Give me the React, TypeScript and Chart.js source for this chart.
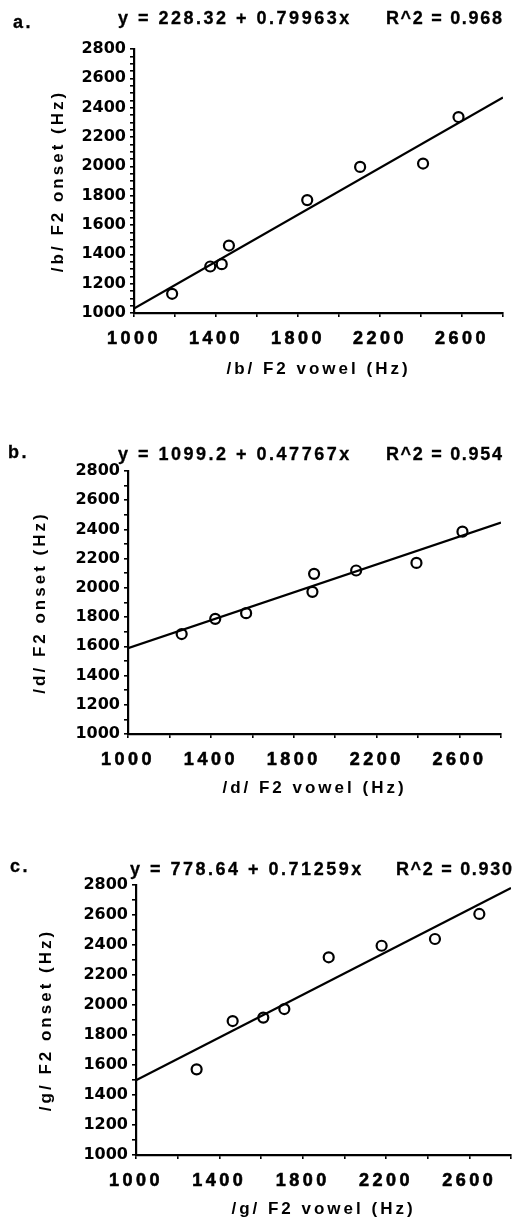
import React, { useEffect, useRef } from 'react';
import { Chart, registerables } from 'chart.js';

Chart.register(...registerables);

// ---------- data ----------
const X_MIN = 1000;
const X_MAX = 2800;
const Y_MIN = 1000;
const Y_MAX = 2800;
const xTickLabels = ['1000', '1400', '1800', '2200', '2600'];
const yTickLabels = ['1000', '1200', '1400', '1600', '1800', '2000', '2200', '2400', '2600', '2800'];

// panel a: /b/
const bVowel = [1186, 1372, 1428, 1463, 1845, 2103, 2410, 2583];
const bOnset = [1131, 1317, 1333, 1460, 1770, 1996, 2019, 2336];
const bFitX = [1000, 2800];
const bFitY = [1030, 2470];

// panel b: /d/
const dVowel = [1259, 1421, 1570, 1890, 1898, 2101, 2392, 2614];
const dOnset = [1684, 1788, 1827, 1973, 2096, 2119, 2171, 2385];
const dFitX = [1000, 2800];
const dFitY = [1588, 2447];

// panel c: /g/
const gVowel = [1291, 1464, 1611, 1712, 1925, 2179, 2435, 2648];
const gOnset = [1571, 1893, 1916, 1973, 2318, 2395, 2440, 2607];
const gFitX = [1000, 2800];
const gFitY = [1498, 2780];

const panelLetters = ['a.', 'b.', 'c.'];
const equations = ['y = 228.32 + 0.79963x', 'y = 1099.2 + 0.47767x', 'y = 778.64 + 0.71259x'];
const rSquared = ['R^2 = 0.968', 'R^2 = 0.954', 'R^2 = 0.930'];
const xTitles = ['/b/ F2 vowel (Hz)', '/d/ F2 vowel (Hz)', '/g/ F2 vowel (Hz)'];
const yTitles = ['/b/ F2 onset (Hz)', '/d/ F2 onset (Hz)', '/g/ F2 onset (Hz)'];
const yMinorSteps = [50, 100, 100];

// ---------- layout ----------
const W = 531;
const FONT = '"Liberation Sans", Arial, Helvetica, sans-serif';
const TICK_FONT = '"DejaVu Sans", "Liberation Sans", sans-serif';

type PanelSpec = {
  top: number;
  height: number;
  area: { left: number; top: number; right: number; bottom: number };
  yTitlePad: number;
  xTitlePad: number;
  letterX: number;
  letterBase: number;
  eqX: number;
  eqBase: number;
  rRight: number;
  vowel: number[];
  onset: number[];
  fitX: number[];
  fitY: number[];
};

const panels: PanelSpec[] = [
  {
    top: 0, height: 400,
    area: { left: 134, top: 49, right: 503, bottom: 313 },
    yTitlePad: 48, xTitlePad: 20,
    letterX: 13, letterBase: 28, eqX: 118, eqBase: 24, rRight: 502,
    vowel: bVowel, onset: bOnset, fitX: bFitX, fitY: bFitY,
  },
  {
    top: 400, height: 410,
    area: { left: 128, top: 71, right: 501, bottom: 334 },
    yTitlePad: 30, xTitlePad: 11,
    letterX: 8, letterBase: 458, eqX: 118, eqBase: 460, rRight: 502,
    vowel: dVowel, onset: dOnset, fitX: dFitX, fitY: dFitY,
  },
  {
    top: 810, height: 410,
    area: { left: 136, top: 75, right: 511, bottom: 345 },
    yTitlePad: 36, xTitlePad: 0,
    letterX: 10, letterBase: 872, eqX: 130, eqBase: 875, rRight: 512,
    vowel: gVowel, onset: gOnset, fitX: gFitX, fitY: gFitY,
  },
];

const spacingPlugin = {
  id: 'letterSpacing',
  beforeLayout(chart: any) {
    chart.ctx.letterSpacing = '3px';
  },
  beforeDraw(chart: any) {
    chart.ctx.letterSpacing = '3px';
  },
};

// draw one scale's tick labels with its own letter spacing
const labelSpacing = (sp: string) => (s: any) => {
  if (s.__wrapped) return;
  s.__wrapped = true;
  const orig = s.drawLabels;
  s.drawLabels = function (area: any) {
    const c = this.ctx;
    c.save();
    c.letterSpacing = sp;
    orig.call(this, area);
    c.restore();
  };
};

function Panel({ spec, idx }: { spec: PanelSpec; idx: number }) {
  const ref = useRef<HTMLCanvasElement | null>(null);
  useEffect(() => {
    if (!ref.current) return;
    const { area, height } = spec;
    const points = spec.vowel.map((v, i) => ({ x: v, y: spec.onset[i] }));
    const fit = spec.fitX.map((v, i) => ({ x: v, y: spec.fitY[i] }));
    const chart = new Chart(ref.current, {
      type: 'scatter',
      data: {
        datasets: [
          {
            data: fit,
            showLine: true,
            borderColor: '#000',
            borderWidth: 2.2,
            pointRadius: 0,
            pointHoverRadius: 0,
            fill: false,
          } as any,
          {
            data: points,
            pointStyle: 'circle',
            pointRadius: 5,
            pointHoverRadius: 5,
            pointBorderWidth: 2.2,
            borderColor: '#000',
            backgroundColor: 'rgba(0,0,0,0)',
            showLine: false,
          } as any,
        ],
      },
      options: {
        animation: false,
        responsive: false,
        devicePixelRatio: 1,
        events: [],
        layout: {
          padding: { left: 0, top: area.top, right: W - area.right, bottom: 0 },
        },
        plugins: {
          legend: { display: false },
          tooltip: { enabled: false },
          title: { display: false },
        },
        scales: {
          x: {
            type: 'linear',
            position: 'bottom',
            min: X_MIN,
            max: X_MAX,
            afterFit: (s: any) => {
              s.height = height - area.bottom;
            },
            afterUpdate: labelSpacing('3.5px'),
            grid: {
              drawOnChartArea: false,
              drawTicks: true,
              tickLength: 4,
              color: '#000',
              lineWidth: 1.6,
            },
            border: { display: true, color: '#000', width: 2.2 },
            ticks: {
              stepSize: 200,
              autoSkip: false,
              maxRotation: 0,
              padding: 11,
              color: '#000',
              textStrokeColor: '#000',
              textStrokeWidth: 0.6,
              font: { family: FONT, size: 18, weight: 'bold' },
              callback: (v: any) => (xTickLabels.includes(String(v)) ? String(v) : ''),
            },
            title: {
              display: true,
              text: xTitles[idx],
              color: '#000',
              font: { family: FONT, size: 17, weight: 'bold', lineHeight: 1.2 },
              padding: { top: 0, bottom: spec.xTitlePad },
            },
          },
          y: {
            type: 'linear',
            position: 'left',
            min: Y_MIN,
            max: Y_MAX,
            afterFit: (s: any) => {
              s.width = area.left;
            },
            afterUpdate: labelSpacing('0px'),
            grid: {
              drawOnChartArea: false,
              drawTicks: true,
              tickLength: 4,
              color: '#000',
              lineWidth: 1.6,
            },
            border: { display: true, color: '#000', width: 2.2 },
            ticks: {
              stepSize: yMinorSteps[idx],
              autoSkip: false,
              padding: 4,
              color: '#000',
              font: { family: TICK_FONT, size: 16, weight: 'bold' },
              callback: (v: any) => (yTickLabels.includes(String(v)) ? String(v) : ''),
            },
            title: {
              display: true,
              text: yTitles[idx],
              color: '#000',
              font: { family: FONT, size: 17, weight: 'bold', lineHeight: 1.2 },
              padding: { top: spec.yTitlePad, bottom: 0 },
            },
          },
        },
      } as any,
      plugins: [spacingPlugin as any],
    });
    return () => chart.destroy();
  }, [spec, idx]);

  const textStyle: React.CSSProperties = {
    position: 'absolute',
    fontFamily: FONT,
    fontWeight: 'bold',
    fontSize: 18,
    lineHeight: '18px',
    letterSpacing: '2.5px',
    whiteSpace: 'pre',
    color: '#000',
    margin: 0,
    WebkitTextStroke: '0.3px #000',
  };
  const baseOffset = 15;

  return (
    <>
      <canvas
        ref={ref}
        width={W}
        height={spec.height}
        style={{ position: 'absolute', left: 0, top: spec.top, width: W, height: spec.height, display: 'block' }}
      />
      <div style={{ ...textStyle, left: spec.letterX, top: spec.letterBase - baseOffset }}>{panelLetters[idx]}</div>
      <div style={{ ...textStyle, left: spec.eqX, top: spec.eqBase - baseOffset }}>{equations[idx]}</div>
      <div
        style={{
          ...textStyle,
          letterSpacing: '1.7px',
          right: W - spec.rRight - 1.7,
          top: spec.eqBase - baseOffset,
          textAlign: 'right',
        }}
      >
        {rSquared[idx]}
      </div>
    </>
  );
}

export default function App() {
  return (
    <div style={{ position: 'absolute', left: 0, top: 0, width: W, height: 1220, background: '#fff', overflow: 'hidden' }}>
      {panels.map((p, i) => (
        <Panel key={i} spec={p} idx={i} />
      ))}
    </div>
  );
}
